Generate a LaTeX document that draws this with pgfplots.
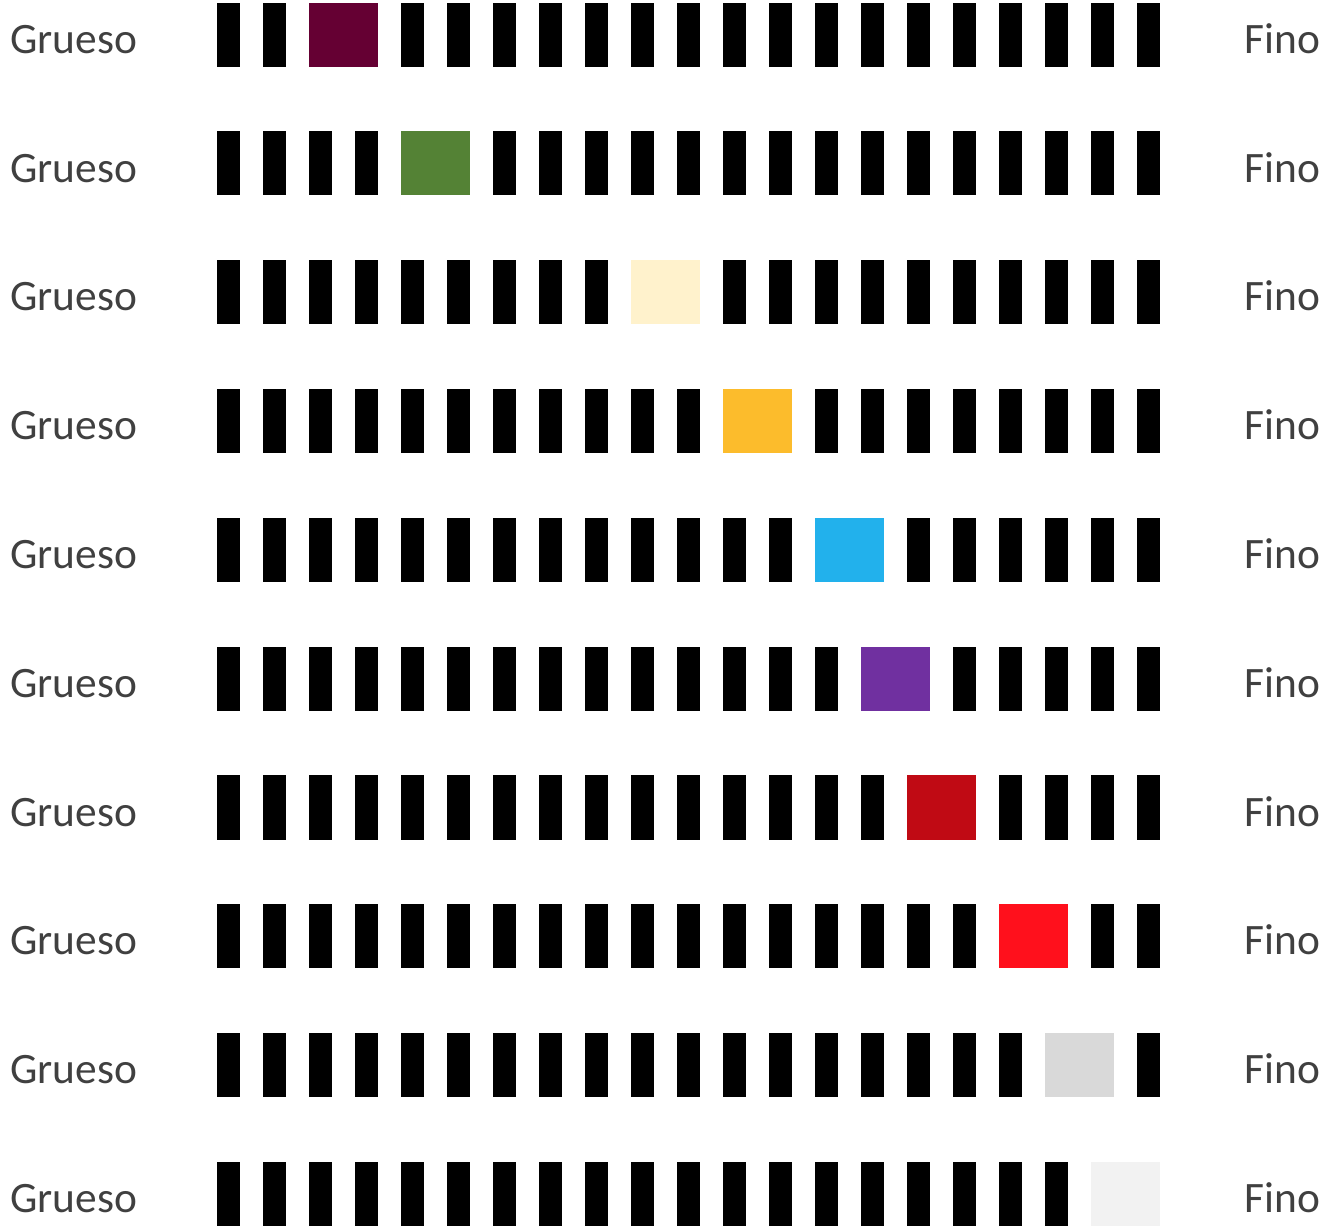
\documentclass[border=0pt]{standalone}
\usepackage{fontspec}
\setmainfont{Carlito}
\usepackage{pgfplots}
\pgfplotsset{compat=1.18}

\definecolor{txt}{HTML}{404040}
\definecolor{c1}{HTML}{650033}
\definecolor{c2}{HTML}{548235}
\definecolor{c3}{HTML}{FFF2CC}
\definecolor{c4}{HTML}{FCBC2C}
\definecolor{c5}{HTML}{22B1EC}
\definecolor{c6}{HTML}{7030A0}
\definecolor{c7}{HTML}{C00A14}
\definecolor{c8}{HTML}{FF101C}
\definecolor{c9}{HTML}{D9D9D9}
\definecolor{c10}{HTML}{F2F2F2}

% thin bar = one slot, square = two slots
\pgfdeclareplotmark{thinbar}{\pgfpathrectangle{\pgfpoint{-5.75pt}{-16pt}}{\pgfpoint{11.5pt}{32pt}}\pgfusepath{fill}}
\pgfdeclareplotmark{widebar}{\pgfpathrectangle{\pgfpoint{-17.25pt}{-16pt}}{\pgfpoint{34.5pt}{32pt}}\pgfusepath{fill}}

\pgfplotsset{
  bars/.style={only marks, mark=thinbar, mark options={fill=black}},
  sq/.style={only marks, mark=widebar, mark options={fill=#1}},
  lbl/.style={only marks, mark=none, nodes near coords={#1},
    nodes near coords style={anchor=base west, inner sep=0pt, text=txt,
      font=\fontsize{21.7}{26}\selectfont}},
}

\begin{document}
\begin{tikzpicture}
\begin{axis}[
    x=23pt, y=64.4pt, y dir=reverse,
    xmin=-4.9565, xmax=24.152,
    ymin=-0.2694, ymax=9.249,
    axis lines=none, clip=false,
]
% invisible corners, so the page keeps the full frame
\addplot[draw=none, mark=none] coordinates {(-4.9565,-0.2694) (24.152,9.249)};
% black bars, slot index vs row index
\addplot[bars] coordinates {(0,0) (1,0) (4,0) (5,0) (6,0) (7,0) (8,0) (9,0) (10,0) (11,0) (12,0) (13,0) (14,0) (15,0) (16,0) (17,0) (18,0) (19,0) (20,0)};
\addplot[bars] coordinates {(0,1) (1,1) (2,1) (3,1) (6,1) (7,1) (8,1) (9,1) (10,1) (11,1) (12,1) (13,1) (14,1) (15,1) (16,1) (17,1) (18,1) (19,1) (20,1)};
\addplot[bars] coordinates {(0,2) (1,2) (2,2) (3,2) (4,2) (5,2) (6,2) (7,2) (8,2) (11,2) (12,2) (13,2) (14,2) (15,2) (16,2) (17,2) (18,2) (19,2) (20,2)};
\addplot[bars] coordinates {(0,3) (1,3) (2,3) (3,3) (4,3) (5,3) (6,3) (7,3) (8,3) (9,3) (10,3) (13,3) (14,3) (15,3) (16,3) (17,3) (18,3) (19,3) (20,3)};
\addplot[bars] coordinates {(0,4) (1,4) (2,4) (3,4) (4,4) (5,4) (6,4) (7,4) (8,4) (9,4) (10,4) (11,4) (12,4) (15,4) (16,4) (17,4) (18,4) (19,4) (20,4)};
\addplot[bars] coordinates {(0,5) (1,5) (2,5) (3,5) (4,5) (5,5) (6,5) (7,5) (8,5) (9,5) (10,5) (11,5) (12,5) (13,5) (16,5) (17,5) (18,5) (19,5) (20,5)};
\addplot[bars] coordinates {(0,6) (1,6) (2,6) (3,6) (4,6) (5,6) (6,6) (7,6) (8,6) (9,6) (10,6) (11,6) (12,6) (13,6) (14,6) (17,6) (18,6) (19,6) (20,6)};
\addplot[bars] coordinates {(0,7) (1,7) (2,7) (3,7) (4,7) (5,7) (6,7) (7,7) (8,7) (9,7) (10,7) (11,7) (12,7) (13,7) (14,7) (15,7) (16,7) (19,7) (20,7)};
\addplot[bars] coordinates {(0,8) (1,8) (2,8) (3,8) (4,8) (5,8) (6,8) (7,8) (8,8) (9,8) (10,8) (11,8) (12,8) (13,8) (14,8) (15,8) (16,8) (17,8) (20,8)};
\addplot[bars] coordinates {(0,9) (1,9) (2,9) (3,9) (4,9) (5,9) (6,9) (7,9) (8,9) (9,9) (10,9) (11,9) (12,9) (13,9) (14,9) (15,9) (16,9) (17,9) (18,9)};
% coloured squares
\addplot[sq=c1] coordinates {(2.5,0)};
\addplot[sq=c2] coordinates {(4.5,1)};
\addplot[sq=c3] coordinates {(9.5,2)};
\addplot[sq=c4] coordinates {(11.5,3)};
\addplot[sq=c5] coordinates {(13.5,4)};
\addplot[sq=c6] coordinates {(14.5,5)};
\addplot[sq=c7] coordinates {(15.5,6)};
\addplot[sq=c8] coordinates {(17.5,7)};
\addplot[sq=c9] coordinates {(18.5,8)};
\addplot[sq=c10] coordinates {(19.5,9)};
% end labels
\addplot[lbl=Grueso] coordinates {(-4.739,0.144) (-4.739,1.144) (-4.739,2.144) (-4.739,3.144) (-4.739,4.144) (-4.739,5.144) (-4.739,6.144) (-4.739,7.144) (-4.739,8.144) (-4.739,9.144)};
\addplot[lbl=Fino] coordinates {(22.087,0.144) (22.087,1.144) (22.087,2.144) (22.087,3.144) (22.087,4.144) (22.087,5.144) (22.087,6.144) (22.087,7.144) (22.087,8.144) (22.087,9.144)};
\end{axis}
\end{tikzpicture}
\end{document}
